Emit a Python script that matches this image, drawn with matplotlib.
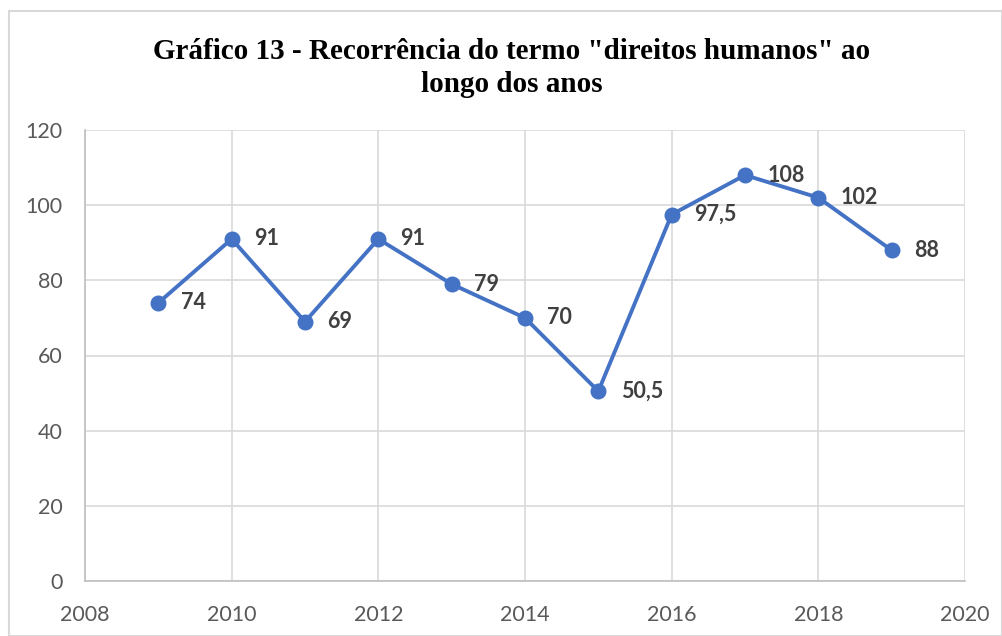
import matplotlib
matplotlib.use("Agg")
import matplotlib.pyplot as plt
from matplotlib.patches import Rectangle

years = [2009, 2010, 2011, 2012, 2013, 2014, 2015, 2016, 2017, 2018, 2019]
values = [74, 91, 69, 91, 79, 70, 50.5, 97.5, 108, 102, 88]
labels = ["74", "91", "69", "91", "79", "70", "50,5", "97,5", "108", "102", "88"]
xticks = [2008, 2010, 2012, 2014, 2016, 2018, 2020]
yticks = [0, 20, 40, 60, 80, 100, 120]
title = 'Gráfico 13 - Recorrência do termo "direitos humanos" ao\nlongo dos anos'

fig = plt.figure(figsize=(10.03, 6.36), dpi=100)
fig.patches.append(Rectangle((9/1003, 0), 1 - 9/1003 - 0.5/1003, 1 - 11/636,
                             transform=fig.transFigure, fill=False,
                             edgecolor="#d9d9d9", linewidth=1.5))
ax = fig.add_axes([85/1003, 1 - 581/636, 880/1003, 451/636])

color = "#4472C4"
ax.plot(years, values, color=color, linewidth=2.8, marker="o", markersize=10.5, zorder=3)
for x, y, t in zip(years, values, labels):
    ax.annotate(t, (x, y), xytext=(16, 0), textcoords="offset points",
                ha="left", va="center", fontsize=15.5, fontweight="bold",
                color="#404040", family=["Lato", "DejaVu Sans"])

ax.set_xlim(2008, 2020)
ax.set_ylim(0, 120)
ax.set_xticks(xticks)
ax.set_yticks(yticks)
ax.grid(True, color="#d9d9d9", linewidth=1.2)
ax.set_axisbelow(True)
for s in ["top", "right"]:
    ax.spines[s].set_visible(False)
for s in ["left", "bottom"]:
    ax.spines[s].set_color("#bfbfbf")
    ax.spines[s].set_linewidth(1.2)
ax.tick_params(length=0, labelsize=15.5, labelcolor="#595959")
ax.tick_params(axis="x", pad=17)
ax.tick_params(axis="y", pad=16)
for lab in ax.get_xticklabels() + ax.get_yticklabels():
    lab.set_family(["Lato", "DejaVu Sans"])

fig.text(0.51, 1 - 68/636, title, ha="center", va="center", fontsize=21,
         fontweight="bold", family=["Liberation Serif", "DejaVu Serif"],
         linespacing=1.28)

fig.savefig("out.png", dpi=100)
